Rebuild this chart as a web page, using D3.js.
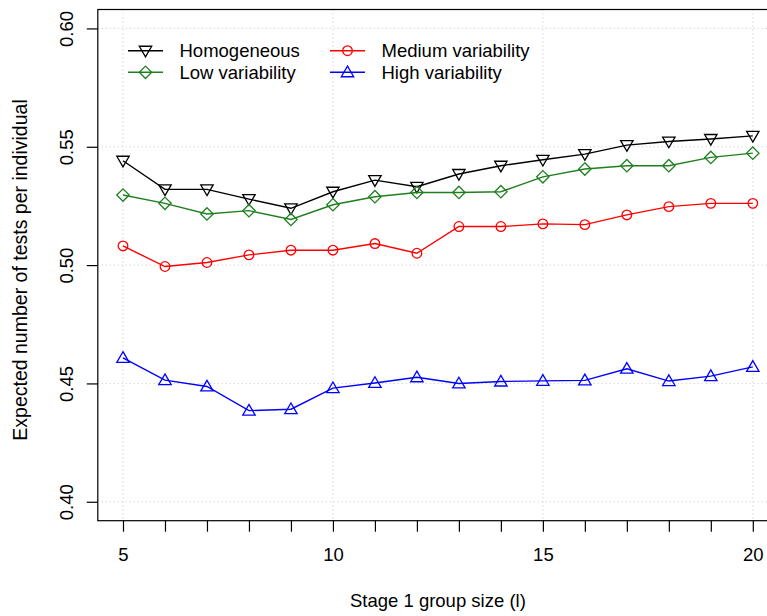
<!DOCTYPE html>
<html>
<head>
<meta charset="utf-8">
<script src="https://cdn.jsdelivr.net/npm/d3@7"></script>
<style>
  body { margin: 0; background: #fff; }
  svg { display: block; font-family: "Liberation Sans", Arial, Helvetica, sans-serif; }
</style>
</head>
<body>
<svg id="chart" width="767" height="616"></svg>
<script>
// group sizes on the x axis
const groupSizes = [5, 6, 7, 8, 9, 10, 11, 12, 13, 14, 15, 16, 17, 18, 19, 20];

// expected number of tests per individual
const homogeneous = [0.5441, 0.5320, 0.5320, 0.5279, 0.5240, 0.5310, 0.5359, 0.5331,
                     0.5385, 0.5420, 0.5445, 0.5469, 0.5507, 0.5522, 0.5533, 0.5546];
const lowVar = [0.5296, 0.5261, 0.5216, 0.5230, 0.5193, 0.5255, 0.5289, 0.5307,
                0.5307, 0.5310, 0.5373, 0.5406, 0.5420, 0.5420, 0.5455, 0.5473];
const mediumVar = [0.5081, 0.4994, 0.5011, 0.5043, 0.5063, 0.5063, 0.5091, 0.5050,
                   0.5163, 0.5163, 0.5174, 0.5171, 0.5212, 0.5247, 0.5261, 0.5261];
const highVar = [0.4608, 0.4514, 0.4487, 0.4385, 0.4391, 0.4480, 0.4502, 0.4526,
                 0.4500, 0.4508, 0.4511, 0.4513, 0.4562, 0.4510, 0.4531, 0.4570];

const xTicks = [5, 10, 15, 20];
const yTicks = [0.40, 0.45, 0.50, 0.55, 0.60];

const seriesList = [
    { name: "Homogeneous", values: homogeneous, color: "#000000", shape: "down" },
    { name: "Low variability", values: lowVar, color: "#1f7f1f", shape: "diamond" },
    { name: "Medium variability", values: mediumVar, color: "#ff0000", shape: "circle" },
    { name: "High variability", values: highVar, color: "#0000ff", shape: "up" }
];

const svg = d3.select("#chart");
const plotLeft = 97.8, plotRight = 778, plotTop = 9.5, plotBottom = 520.7;
const fontSize = 18.5;

const x = d3.scaleLinear().domain([4.4, 20.6]).range([plotLeft, plotRight]);
const y = d3.scaleLinear().domain([0.392, 0.608]).range([plotBottom, plotTop]);

// dotted grid
const grid = svg.append("g").attr("stroke", "#c8c8c8").attr("stroke-dasharray", "1,3").attr("stroke-width", 1);
grid.selectAll("line.v").data(xTicks).enter().append("line").attr("class", "v")
    .attr("x1", d => x(d)).attr("x2", d => x(d))
    .attr("y1", plotTop).attr("y2", plotBottom);
grid.selectAll("line.h").data(yTicks).enter().append("line").attr("class", "h")
    .attr("x1", plotLeft).attr("x2", plotRight)
    .attr("y1", d => y(d)).attr("y2", d => y(d));

// axes
const xAxis = svg.append("g")
    .attr("transform", `translate(0, ${plotBottom})`)
    .call(d3.axisBottom(x).tickValues(d3.range(5, 21)).tickSize(11).tickPadding(16)
        .tickFormat(d => xTicks.includes(d) ? d : ""));
const yAxis = svg.append("g")
    .attr("transform", `translate(${plotLeft}, 0)`)
    .call(d3.axisLeft(y).tickValues(yTicks).tickSize(11).tickFormat(d3.format(".2f")));

[xAxis, yAxis].forEach(a => {
    a.select(".domain").remove();
    a.selectAll("line").attr("stroke", "#000").attr("stroke-width", 1.2);
    a.selectAll("text").attr("fill", "#000").style("font-size", fontSize + "px")
        .style("font-family", "'Liberation Sans', Arial, sans-serif");
});
yAxis.selectAll(".tick text")
    .attr("x", null).attr("dy", null)
    .attr("text-anchor", "middle")
    .attr("transform", "translate(-25, 0) rotate(-90)");

// box
svg.append("rect")
    .attr("x", plotLeft).attr("y", plotTop)
    .attr("width", plotRight - plotLeft).attr("height", plotBottom - plotTop)
    .attr("fill", "none").attr("stroke", "#000").attr("stroke-width", 1.2);

// axis titles
svg.append("text")
    .attr("x", (plotLeft + plotRight) / 2).attr("y", 607)
    .attr("text-anchor", "middle").style("font-size", fontSize + "px")
    .text("Stage 1 group size (l)");
svg.append("text")
    .attr("transform", "translate(27, 270) rotate(-90)")
    .attr("text-anchor", "middle").style("font-size", "19.5px")
    .text("Expected number of tests per individual");

function marker(g, shape, color) {
    const s = 6.2;
    if (shape === "circle") {
        g.append("circle").attr("r", 4.8);
    } else if (shape === "diamond") {
        g.append("path").attr("d", `M0,${-s}L${s},0L0,${s}L${-s},0Z`);
    } else if (shape === "up") {
        g.append("path").attr("d", `M0,${-s}L${s},${s * 0.72}L${-s},${s * 0.72}Z`);
    } else {
        g.append("path").attr("d", `M0,${s}L${s},${-s * 0.72}L${-s},${-s * 0.72}Z`);
    }
    g.selectAll("*").attr("fill", "none").attr("stroke", color).attr("stroke-width", 1.3);
}

const line = d3.line().x((d, i) => x(groupSizes[i])).y(d => y(d));

seriesList.forEach(s => {
    const g = svg.append("g");
    g.append("path")
        .attr("d", line(s.values))
        .attr("fill", "none").attr("stroke", s.color).attr("stroke-width", 1.4);
    g.selectAll("g.pt").data(s.values).enter().append("g").attr("class", "pt")
        .attr("transform", (d, i) => `translate(${x(groupSizes[i])}, ${y(d)})`)
        .each(function () { marker(d3.select(this), s.shape, s.color); });
});

// legend
const legendPos = [
    { lx: 128, ly: 50.7 }, { lx: 128, ly: 72.3 },
    { lx: 330, ly: 50.7 }, { lx: 330, ly: 72.3 }
];
seriesList.forEach((s, i) => {
    const p = legendPos[i];
    const g = svg.append("g");
    g.append("line")
        .attr("x1", p.lx).attr("x2", p.lx + 35)
        .attr("y1", p.ly).attr("y2", p.ly)
        .attr("stroke", s.color).attr("stroke-width", 1.4);
    const m = g.append("g").attr("transform", `translate(${p.lx + 17.5}, ${p.ly})`);
    marker(m, s.shape, s.color);
    g.append("text")
        .attr("x", p.lx + 51.5).attr("y", p.ly).attr("dy", "0.35em")
        .style("font-size", fontSize + "px")
        .text(s.name);
});
</script>
</body>
</html>
